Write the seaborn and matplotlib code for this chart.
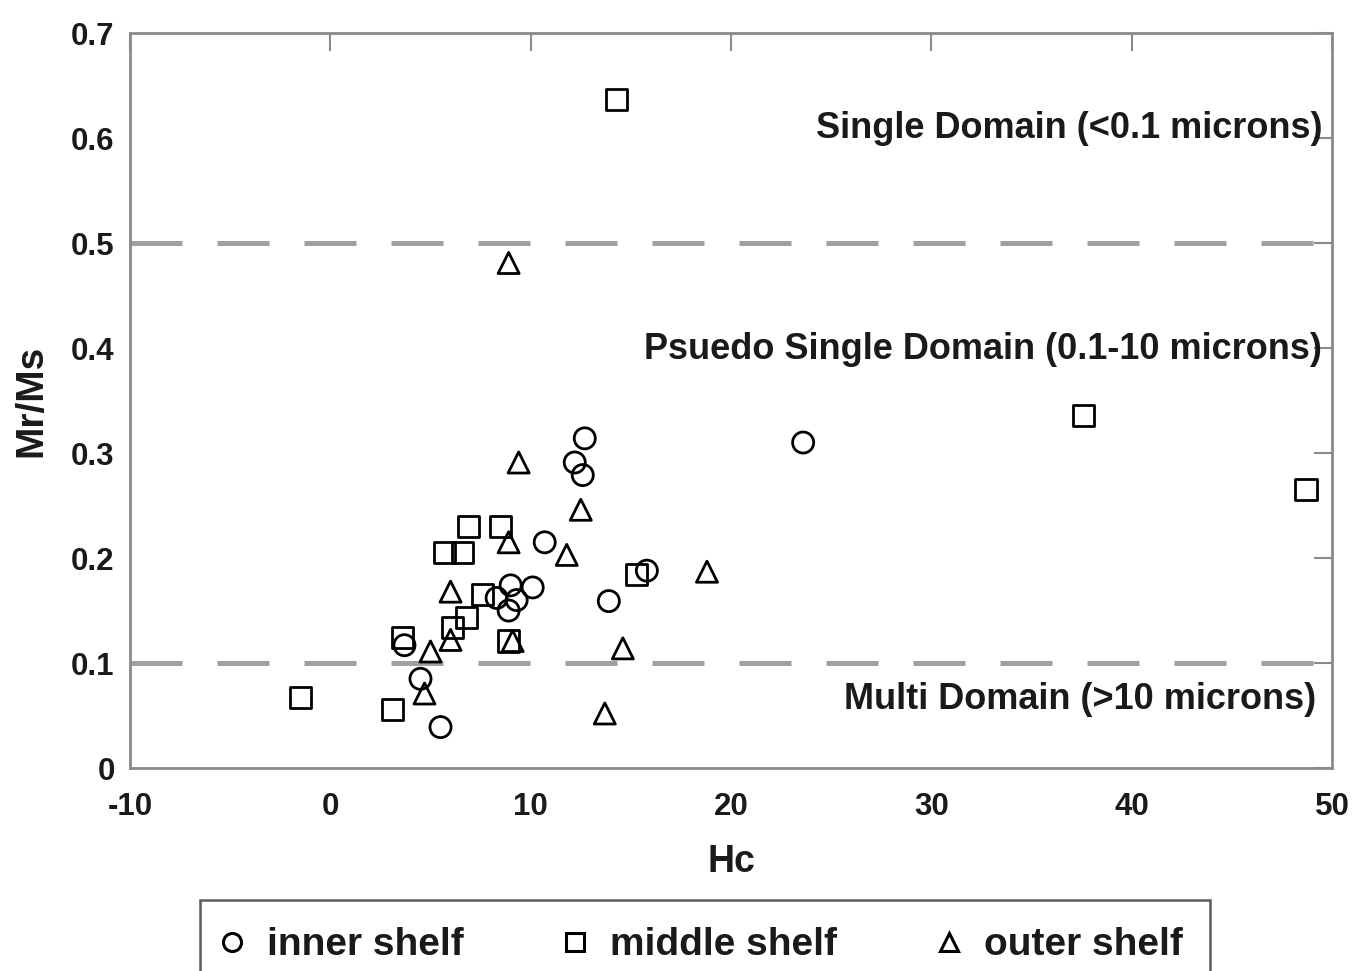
import matplotlib
matplotlib.use("Agg")
import matplotlib.pyplot as plt
from matplotlib.lines import Line2D
import numpy as np
import pandas as pd
import seaborn as sns

# Hysteresis ratios by shelf zone
inner_hc = [3.7, 4.5, 5.5, 8.3, 8.9, 9.0, 9.3, 10.1, 10.7, 12.2, 12.7, 12.6, 13.9, 15.8, 23.6]
inner_mr = [0.117, 0.085, 0.039, 0.162, 0.150, 0.174, 0.160, 0.172, 0.215, 0.291, 0.314, 0.279, 0.159, 0.188, 0.310]

middle_hc = [14.3, 37.6, 48.7, -1.5, 3.1, 3.6, 5.7, 6.6, 6.9, 8.5, 7.6, 6.8, 6.1, 8.9, 15.3]
middle_mr = [0.637, 0.336, 0.265, 0.067, 0.056, 0.124, 0.205, 0.205, 0.230, 0.230, 0.165, 0.143, 0.134, 0.121, 0.184]

outer_hc = [8.9, 9.4, 12.5, 8.9, 11.8, 18.8, 6.0, 6.0, 5.0, 4.7, 9.1, 14.6, 13.7]
outer_mr = [0.481, 0.291, 0.246, 0.215, 0.203, 0.187, 0.168, 0.122, 0.111, 0.071, 0.121, 0.114, 0.052]

groups = ["inner shelf", "middle shelf", "outer shelf"]
markers = {"inner shelf": "o", "middle shelf": "s", "outer shelf": "^"}

domain_bounds = [0.5, 0.1]
domain_labels = ["Single Domain (<0.1 microns)",
                 "Psuedo Single Domain (0.1-10 microns)",
                 "Multi Domain (>10 microns)"]
domain_label_y = [0.609, 0.399, 0.065]
domain_label_x = [49.5, 49.5, 49.2]

df = pd.concat([
    pd.DataFrame({"Hc": inner_hc, "MrMs": inner_mr, "zone": groups[0]}),
    pd.DataFrame({"Hc": middle_hc, "MrMs": middle_mr, "zone": groups[1]}),
    pd.DataFrame({"Hc": outer_hc, "MrMs": outer_mr, "zone": groups[2]}),
], ignore_index=True)

sns.set_theme(style="white")
plt.rcParams["font.family"] = ["Liberation Sans", "DejaVu Sans"]
plt.rcParams["font.weight"] = "bold"

text_col = "#1a1a1a"
frame_col = "#8a8a8a"

fig = plt.figure(figsize=(13.57, 9.71), dpi=100)
ax = fig.add_axes([0.0958, 0.209, 0.8858, 0.757])

for b in domain_bounds:
    ax.axhline(b, color="#a0a0a0", lw=3.6, dashes=(10.4, 7.0), zorder=1)

sns.scatterplot(data=df, x="Hc", y="MrMs", style="zone", markers=markers,
                style_order=groups, s=230, facecolor="none", edgecolor="black",
                linewidth=2.0, legend=False, ax=ax, zorder=3)

for lab, xx, yy in zip(domain_labels, domain_label_x, domain_label_y):
    ax.text(xx, yy, lab, ha="right", va="center", fontsize=26,
            fontweight="bold", color=text_col, zorder=4)

ax.set_xlim(-10, 50)
ax.set_ylim(0, 0.7)
ax.set_xticks(np.arange(-10, 51, 10))
ax.set_yticks(np.round(np.arange(0, 0.71, 0.1), 1))
ax.set_xticklabels([str(v) for v in range(-10, 51, 10)])
ax.set_yticklabels(["0", "0.1", "0.2", "0.3", "0.4", "0.5", "0.6", "0.7"])
ax.tick_params(direction="in", length=13, width=1.5, color=frame_col,
               top=True, right=True, labelsize=22.5, labelcolor=text_col)
ax.tick_params(axis="x", pad=17)
ax.tick_params(axis="y", pad=11)
for lbl in ax.get_xticklabels() + ax.get_yticklabels():
    lbl.set_fontweight("bold")
for sp in ax.spines.values():
    sp.set_color(frame_col)
    sp.set_linewidth(2)

ax.set_xlabel("Hc", fontsize=27, fontweight="bold", labelpad=16, color=text_col)
ax.set_ylabel("Mr/Ms", fontsize=28, fontweight="bold", labelpad=16, color=text_col)

handles = [Line2D([], [], marker=markers[g], linestyle="none", markersize=13,
                  markerfacecolor="none", markeredgecolor="black",
                  markeredgewidth=2.2) for g in groups]
leg = fig.legend(handles, groups, loc="upper left", ncol=3,
                 bbox_to_anchor=(200 / 1357, 1 - 900 / 971), borderaxespad=0,
                 frameon=True, fancybox=False, fontsize=28,
                 columnspacing=2.75, handletextpad=0.77,
                 handlelength=0.25, borderpad=0.7)
leg.get_frame().set_edgecolor("#333333")
leg.get_frame().set_linewidth(1.8)
for t in leg.get_texts():
    t.set_fontweight("bold")
    t.set_color(text_col)

fig.savefig("out.png", dpi=100)
